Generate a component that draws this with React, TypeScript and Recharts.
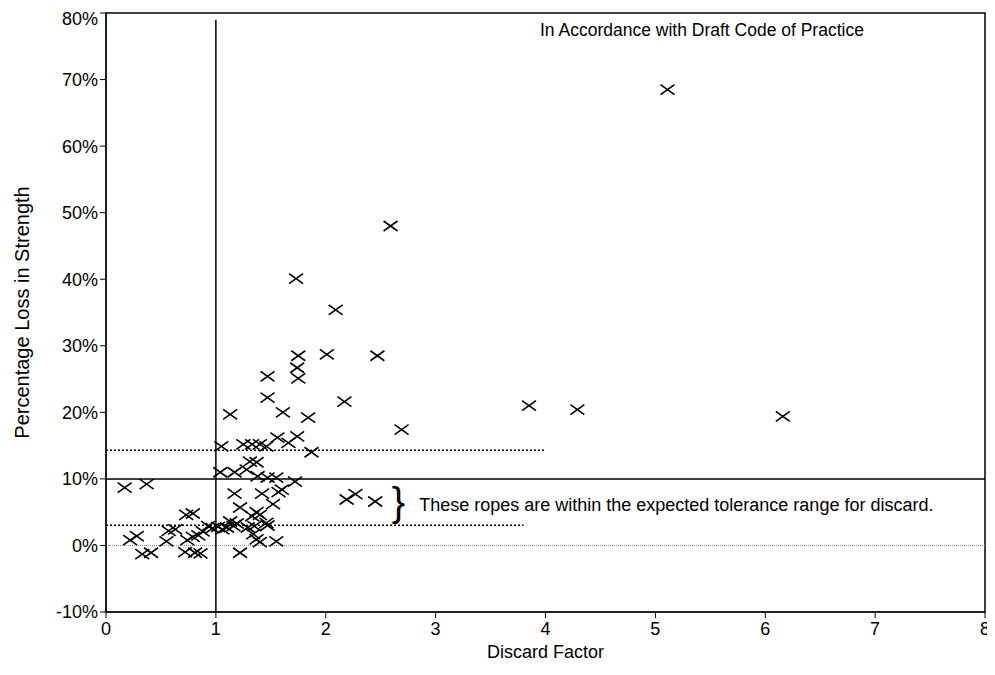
import {
  ScatterChart,
  Scatter,
  XAxis,
  YAxis,
  ReferenceLine,
  ReferenceArea,
  ReferenceDot,
} from 'recharts';

// discard factor vs % loss in strength
const discardFactor = [
  0.17, 0.37, 0.22, 0.28, 0.33, 0.41, 0.55, 0.57, 0.63, 0.73, 0.79,
  0.74, 0.72, 0.81, 0.86, 0.79, 0.84, 0.88, 0.93, 0.97, 1.02, 1.06,
  1.1, 1.13, 1.16, 1.19, 1.22, 1.22, 1.17, 1.29, 1.33, 1.34, 1.35,
  1.37, 1.37, 1.4, 1.4, 1.46, 1.47, 1.52, 1.55, 1.57, 1.42, 1.6, 1.72,
  1.04, 1.17, 1.28, 1.31, 1.37, 1.38, 1.47, 1.55, 1.05, 1.25, 1.33,
  1.4, 1.46, 1.56, 1.66, 1.74, 1.87, 1.13, 1.61, 1.84, 1.47, 1.47,
  1.75, 1.74, 1.75, 2.01, 2.47, 1.73, 2.09, 2.59, 5.11, 2.17, 2.69,
  3.85, 4.29, 6.16, 2.19, 2.27, 2.45,
];
const strengthLoss = [
  8.7, 9.2, 0.8, 1.4, -1.3, -1.1, 0.6, 2.2, 2.4, 4.6, 4.8,
  0.8, -1.0, -1.1, -1.2, 1.3, 1.5, 2.1, 2.9, 2.6, 2.8, 2.4,
  2.7, 3.6, 2.9, 3.3, -1.1, 5.7, 7.8, 2.7, 4.4, 1.7, 2.9,
  5.0, 0.9, 0.5, 4.6, 3.4, 3.0, 6.2, 0.6, 8.0, 7.8, 8.4, 9.6,
  11.0, 11.0, 11.4, 12.6, 12.5, 10.4, 10.2, 10.2, 14.9, 15.2, 15.2,
  15.2, 14.9, 16.2, 15.4, 16.4, 14.0, 19.7, 20.0, 19.2, 22.2, 25.4,
  25.1, 26.7, 28.5, 28.7, 28.5, 40.1, 35.4, 48.0, 68.5, 21.6, 17.4,
  21.0, 20.4, 19.4, 6.9, 7.7, 6.6,
];
const xTicks = [0, 1, 2, 3, 4, 5, 6, 7, 8];
const yTicks = [-10, 0, 10, 20, 30, 40, 50, 60, 70, 80];

const points = discardFactor.map((x, i) => ({ x, y: strengthLoss[i] }));

const font = '"Liberation Sans", Arial, sans-serif';

function Cross(props: any) {
  const { cx, cy } = props;
  if (cx == null || cy == null) return null;
  return (
    <g stroke="#000" strokeWidth={1.6}>
      <line x1={cx - 7} y1={cy - 5} x2={cx + 7} y2={cy + 5} />
      <line x1={cx - 7} y1={cy + 5} x2={cx + 7} y2={cy - 5} />
    </g>
  );
}

export default function App() {
  return (
    <div style={{ fontFamily: font }}>
      <ScatterChart
        width={987}
        height={667}
        margin={{ top: 5, right: 10, left: 0, bottom: 0 }}
      >
        <XAxis
          type="number"
          dataKey="x"
          domain={[0, 8]}
          ticks={xTicks}
          allowDataOverflow
          stroke="#000"
          tickSize={6}
          tickMargin={4}
          height={63}
          tick={{ fill: '#000', fontSize: 18, fontFamily: font }}
          label={{
            value: 'Discard Factor',
            position: 'insideBottom',
            offset: 17,
            fill: '#000',
            fontSize: 18,
            fontFamily: font,
          }}
        />
        <YAxis
          type="number"
          dataKey="y"
          domain={[-10, 80]}
          ticks={yTicks}
          allowDataOverflow
          stroke="#000"
          width={98}
          tickSize={6}
          tickMargin={2}
          tickFormatter={(v: number) => `${v}%`}
          tick={{ fill: '#000', fontSize: 18, fontFamily: font }}
          label={{
            value: 'Percentage Loss in Strength',
            angle: -90,
            position: 'insideLeft',
            offset: 14,
            fill: '#000',
            fontSize: 20,
            fontFamily: font,
            style: { textAnchor: 'middle' },
          }}
        />
        <ReferenceArea x1={0} x2={8} y1={-10} y2={80} fill="none" stroke="#000" strokeWidth={1.5} />
        <ReferenceLine y={10} stroke="#000" strokeWidth={1.5} />
        <ReferenceLine y={0} stroke="#888" strokeWidth={1} strokeDasharray="1 1" />
        <ReferenceLine
          segment={[{ x: 0, y: 14.3 }, { x: 4, y: 14.3 }]}
          stroke="#000"
          strokeWidth={1.5}
          strokeDasharray="2 2"
        />
        <ReferenceLine
          segment={[{ x: 0, y: 3.05 }, { x: 3.8, y: 3.05 }]}
          stroke="#000"
          strokeWidth={1.5}
          strokeDasharray="2 2"
        />
        <ReferenceLine
          segment={[{ x: 1, y: -10 }, { x: 1, y: 79 }]}
          stroke="#000"
          strokeWidth={1.5}
        />
        <Scatter data={points} shape={Cross} isAnimationActive={false} />
        <ReferenceDot
          x={3.95}
          y={77.5}
          r={0}
          fill="none"
          stroke="none"
          label={{
            value: 'In Accordance with Draft Code of Practice',
            position: 'right',
            offset: 0,
            fill: '#000',
            fontSize: 17.5,
            fontFamily: font,
          }}
        />
        <ReferenceDot
          x={2.6}
          y={6.6}
          r={0}
          fill="none"
          stroke="none"
          label={{
            value: '}',
            position: 'right',
            offset: 0,
            fill: '#000',
            fontSize: 40,
            fontFamily: font,
          }}
        />
        <ReferenceDot
          x={2.85}
          y={6.2}
          r={0}
          fill="none"
          stroke="none"
          label={{
            value: 'These ropes are within the expected tolerance range for discard.',
            position: 'right',
            offset: 0,
            fill: '#000',
            fontSize: 18,
            fontFamily: font,
          }}
        />
      </ScatterChart>
    </div>
  );
}
